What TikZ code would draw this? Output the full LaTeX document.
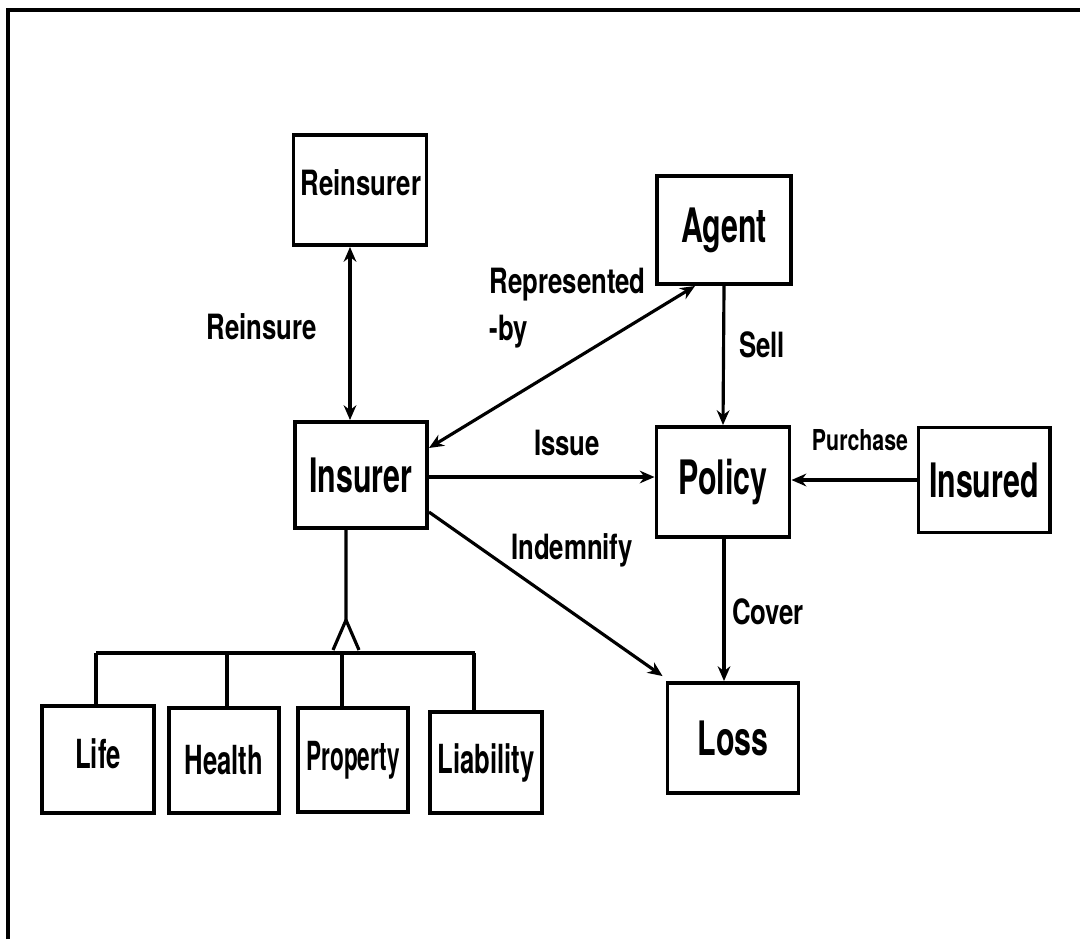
\documentclass[tikz,border=0pt]{standalone}
\usepackage{fontspec}
\setmainfont{TeX Gyre Heros}
\newfontfamily\boxfont{TeX Gyre Heros}[FakeStretch=0.64]
\newfontfamily\labfont{TeX Gyre Heros}[FakeStretch=0.74]
\usetikzlibrary{arrows.meta}

\begin{document}
\begin{tikzpicture}[x=0.01cm, y=-0.01cm, line width=0.9pt,
  >={Stealth[length=4.2pt, width=3.6pt]},
  ent/.style={draw, line width=1.1pt, inner sep=0pt, rectangle},
  bigtxt/.style={font=\boxfont\bfseries\fontsize{13.5}{15}\selectfont},
  subtxt/.style={font=\boxfont\bfseries\fontsize{11.4}{13}\selectfont},
  lab/.style={inner sep=0pt, font=\labfont\bfseries\fontsize{9.9}{13.3}\selectfont},
  smalllab/.style={inner sep=0pt, font=\labfont\bfseries\fontsize{8.2}{10}\selectfont}]

  \useasboundingbox (0,0) rectangle (1080,939);

  % page frame: left and top edges
  \draw[line width=1pt] (8,939) -- (8,10) -- (1080,10);

  % entities
  \node[ent, minimum width=1.33cm, minimum height=1.10cm] (rein) at (360,190) {};
  \node[lab, font=\labfont\bfseries\fontsize{9.9}{12}\selectfont] (reint) at (361,183) {Reinsurer};
  \node[ent, bigtxt, minimum width=1.34cm, minimum height=1.08cm] (agent) at (724,230) {Agent};
  \node[ent, bigtxt, minimum width=1.32cm, minimum height=1.06cm] (insr) at (361,475) {Insurer};
  \node[ent, bigtxt, minimum width=1.33cm, minimum height=1.10cm] (pol) at (723,482) {Policy};
  \node[ent, bigtxt, minimum width=1.31cm, minimum height=1.05cm] (insd) at (984,480) {Insured};
  \node[ent, bigtxt, minimum width=1.31cm, minimum height=1.10cm] (loss) at (733,738) {Loss};

  % sub-types of insurer
  \node[ent, subtxt, minimum width=1.12cm, minimum height=1.07cm] (life) at (98,759.5) {\raisebox{1.2mm}{Life}};
  \node[ent, subtxt, minimum width=1.10cm, minimum height=1.05cm] (health) at (224,760.5) {Health};
  \node[ent, subtxt, minimum width=1.10cm, minimum height=1.04cm] (prop) at (353,760) {\scalebox{0.88}[1]{Property}};
  \node[ent, subtxt, minimum width=1.12cm, minimum height=1.01cm] (liab) at (486,762.5) {Liability};

  % relationships
  \draw[<->] ([xshift=-0.1cm]rein.south) -- ([xshift=-0.11cm]insr.north);
  \draw[<->] ([yshift=0.27cm]insr.east) -- ([xshift=-0.29cm]agent.south);
  \draw[->] ([yshift=-0.02cm]insr.east) -- ([yshift=-0.02cm]insr.east -| pol.west);
  \draw[->] (agent.south) -- (pol.north);
  \draw[->] (insd.west) -- (insd.west -| pol.east);
  \draw[->] ([xshift=0.01cm]pol.south) -- ([xshift=0.01cm]pol.south |- loss.north);
  \draw[->] ([yshift=-0.37cm]insr.east) -- ([xshift=-0.03cm,yshift=0.05cm]loss.north west);

  % relationship labels
  \node[lab] (lreins) at (262,327) {Reinsure};
  \node[lab, align=left, anchor=west] (lrep) at (488,308) {Represented\\-by};
  \node[lab] (lsell) at (762,345) {Sell};
  \node[lab] (lissue) at (567,443) {Issue};
  \node[smalllab] (lpurch) at (860,440) {Purchase};
  \node[lab] (lindem) at (572,550) {Indemnify};
  \node[lab] (lcover) at (768,612) {Cover};

  % generalisation tree
  \coordinate (apex) at (346,620);
  \coordinate (bus) at (346,653);
  \draw ([xshift=-0.15cm]insr.south) -- (apex);
  \draw (apex) -- (333,650);
  \draw (apex) -- (359,650);
  \draw (96,653) -- (475,653);
  \draw (96,653) -- (96,0 |- life.north);
  \draw (227,653) -- (227,0 |- health.north);
  \draw (342,653) -- (342,0 |- prop.north);
  \draw (474,653) -- (474,0 |- liab.north);
\end{tikzpicture}
\end{document}
